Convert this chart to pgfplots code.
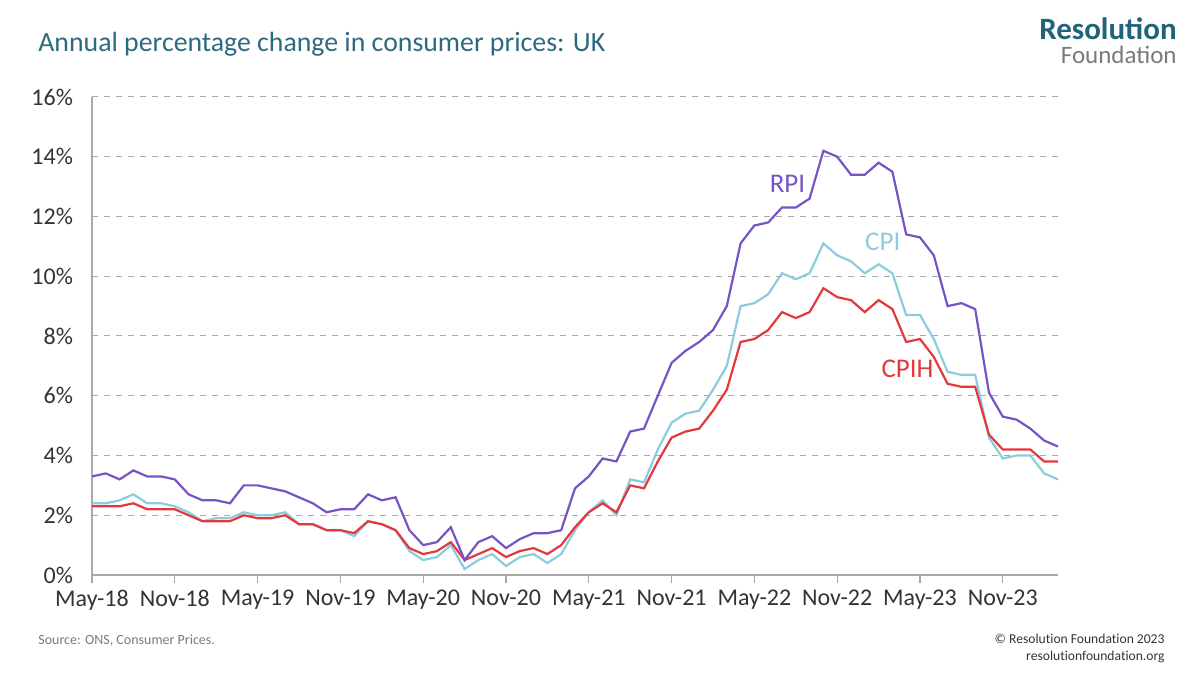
\documentclass[border=0pt]{standalone}
\usepackage{pgfplots}
\pgfplotsset{compat=1.18}
\usepackage{fontspec}
\setmainfont{Carlito}[Ligatures={NoCommon}]
\newfontfamily\logofont{Carlito}
\definecolor{rpi}{HTML}{7654C6}
\definecolor{cpi}{HTML}{8DCCDD}
\definecolor{cpih}{HTML}{E2393D}
\definecolor{titlec}{HTML}{2D6A80}
\definecolor{logoc}{HTML}{1F6478}
\definecolor{txt}{HTML}{333333}
\definecolor{axc}{HTML}{AAAAAA}
\definecolor{gridc}{HTML}{A8A8A8}
\definecolor{foot}{HTML}{7A7A7A}

\pgfplotstableread{
x rpi cpi cpih
0 3.3 2.4 2.3
1 3.4 2.4 2.3
2 3.2 2.5 2.3
3 3.5 2.7 2.4
4 3.3 2.4 2.2
5 3.3 2.4 2.2
6 3.2 2.3 2.2
7 2.7 2.1 2.0
8 2.5 1.8 1.8
9 2.5 1.9 1.8
10 2.4 1.9 1.8
11 3.0 2.1 2.0
12 3.0 2.0 1.9
13 2.9 2.0 1.9
14 2.8 2.1 2.0
15 2.6 1.7 1.7
16 2.4 1.7 1.7
17 2.1 1.5 1.5
18 2.2 1.5 1.5
19 2.2 1.3 1.4
20 2.7 1.8 1.8
21 2.5 1.7 1.7
22 2.6 1.5 1.5
23 1.5 0.8 0.9
24 1.0 0.5 0.7
25 1.1 0.6 0.8
26 1.6 1.0 1.1
27 0.5 0.2 0.5
28 1.1 0.5 0.7
29 1.3 0.7 0.9
30 0.9 0.3 0.6
31 1.2 0.6 0.8
32 1.4 0.7 0.9
33 1.4 0.4 0.7
34 1.5 0.7 1.0
35 2.9 1.5 1.6
36 3.3 2.1 2.1
37 3.9 2.5 2.4
38 3.8 2.0 2.1
39 4.8 3.2 3.0
40 4.9 3.1 2.9
41 6.0 4.2 3.8
42 7.1 5.1 4.6
43 7.5 5.4 4.8
44 7.8 5.5 4.9
45 8.2 6.2 5.5
46 9.0 7.0 6.2
47 11.1 9.0 7.8
48 11.7 9.1 7.9
49 11.8 9.4 8.2
50 12.3 10.1 8.8
51 12.3 9.9 8.6
52 12.6 10.1 8.8
53 14.2 11.1 9.6
54 14.0 10.7 9.3
55 13.4 10.5 9.2
56 13.4 10.1 8.8
57 13.8 10.4 9.2
58 13.5 10.1 8.9
59 11.4 8.7 7.8
60 11.3 8.7 7.9
61 10.7 7.9 7.3
62 9.0 6.8 6.4
63 9.1 6.7 6.3
64 8.9 6.7 6.3
65 6.1 4.6 4.7
66 5.3 3.9 4.2
67 5.2 4.0 4.2
68 4.9 4.0 4.2
69 4.5 3.4 3.8
70 4.3 3.2 3.8
}\datatable

\begin{document}
\begin{tikzpicture}
\useasboundingbox (0pt,0pt) rectangle (600pt,337.5pt);
\node[anchor=base west, inner sep=0, text=titlec, font=\fontsize{13.9}{16}\selectfont] at (19pt,311.5pt) {Annual percentage change in consumer prices: UK};
\node[anchor=base east, inner sep=0, text depth=0pt, text=logoc, font=\logofont\fontsize{15.5}{18}\selectfont\bfseries] at (588.5pt,317.5pt) {Resolution};
\node[anchor=base east, inner sep=0, text height=8.6pt, text=foot, font=\logofont\fontsize{12.5}{14}\selectfont] at (588.5pt,305.5pt) {Foundation};
\node[anchor=base west, inner sep=0, text=foot, font=\fontsize{7}{8}\selectfont] at (19pt,15.5pt) {Source: ONS, Consumer Prices.};
\node[anchor=base east, inner sep=0, text=txt, font=\fontsize{6.8}{8}\selectfont] at (582.5pt,16pt) {© Resolution Foundation 2023};
\node[anchor=base east, inner sep=0, text=txt, font=\fontsize{6.8}{8}\selectfont] at (582.5pt,7.5pt) {resolutionfoundation.org};
\begin{axis}[
  at={(46pt,50pt)}, anchor=south west,
  scale only axis, width=483pt, height=239pt,
  xmin=0, xmax=70, ymin=0, ymax=16,
  axis x line*=bottom, axis y line*=left,
  axis line style={draw=axc, line width=0.6pt, -},
  xtick={0,6,...,66},
  xticklabels={May-18,Nov-18,May-19,Nov-19,May-20,Nov-20,May-21,Nov-21,May-22,Nov-22,May-23,Nov-23},
  ytick={0,2,...,16},
  yticklabel={\pgfmathprintnumber{\tick}\%},
  /pgf/number format/assume math mode=true,
  tick align=outside,
  major tick length=4pt,
  x tick style={draw=axc, line width=0.6pt},
  y tick style={draw=none},
  ymajorgrids,
  grid style={draw=gridc, dashed, line width=0.5pt},
  ticklabel style={font=\fontsize{12}{14}\selectfont, text=txt},
  yticklabel style={xshift=-2pt},
  clip=false,
]
\addplot[cpi, line width=1.1pt] table[x=x,y=cpi]{\datatable};
\addplot[cpih, line width=1.1pt] table[x=x,y=cpih]{\datatable};
\addplot[rpi, line width=1.1pt] table[x=x,y=rpi]{\datatable};
\node[text=rpi, font=\fontsize{13.5}{15}\selectfont] at (axis cs:50.4,13.1) {RPI};
\node[text=cpi, font=\fontsize{13.5}{15}\selectfont] at (axis cs:57.3,11.15) {CPI};
\node[text=cpih, font=\fontsize{13.5}{15}\selectfont] at (axis cs:59.1,6.9) {CPIH};
\end{axis}
\end{tikzpicture}
\end{document}
